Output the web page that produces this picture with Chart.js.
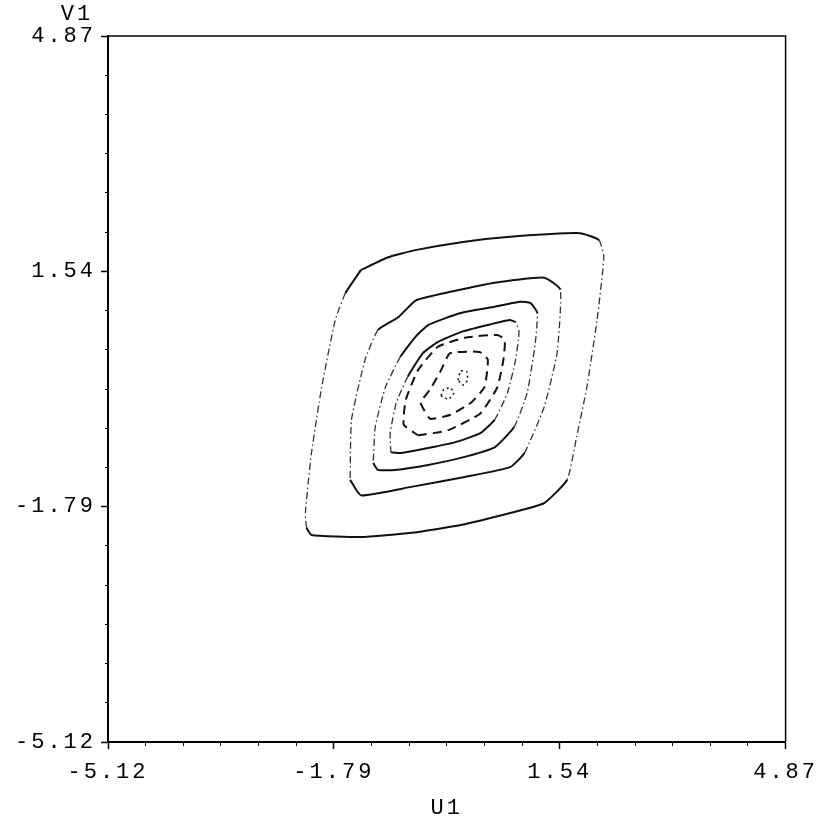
<!DOCTYPE html>
<html>
<head>
<meta charset="utf-8">
<title>U1 / V1 contours</title>
<script src="https://cdn.jsdelivr.net/npm/chart.js@4.4.1/dist/chart.umd.min.js"></script>
<style>
  body { margin: 0; background: #fff; }
  canvas { display: block; }
</style>
</head>
<body>
<canvas id="contourChart" width="822" height="821"></canvas>
<script>
// axis range and labelled ticks
const axisMin = -5.12;
const axisMax = 4.87;
const majorTicks = [-5.12, -1.79, 1.54, 4.87];
const tickLabels = ['-5.12', '-1.79', '1.54', '4.87'];
const minorPerMajor = 6;

// contour lines, outermost first
const c1x = [-1.39, -0.99, -0.59, 0.14, 0.81, 1.84, 2.12, 2.19, 2.09, 1.94, 1.79, 1.65, 1.31, 0.81, 0.08, -0.65, -1.39, -2.12, -2.19, -2.21, -2.12, -1.97, -1.77, -1.62, -1.39];
const c1y = [1.56, 1.74, 1.84, 1.96, 2.03, 2.08, 1.98, 1.74, 0.85, -0.10, -0.80, -1.41, -1.74, -1.88, -2.05, -2.16, -2.22, -2.19, -2.09, -1.88, -1.03, -0.10, 0.85, 1.23, 1.56];

const c2x = [-1.55, -1.39, -0.65, 0.14, 0.81, 1.02, 1.31, 1.50, 1.55, 1.31, 0.58, -0.07, -0.58, -0.84, -1.14, -1.33, -1.53, -1.55];
const c2y = [-1.41, -1.63, -1.51, -1.37, -1.23, -1.03, -0.38, 0.38, 1.28, 1.45, 1.38, 1.25, 1.13, 0.89, 0.71, 0.29, -0.56, -1.41];

const c3x = [-1.21, -1.14, -0.89, -0.40, 0.08, 0.58, 0.87, 1.06, 1.18, 1.21, 1.11, 0.96, 0.58, 0.08, -0.40, -0.59, -0.81, -1.03, -1.18, -1.21];
const c3y = [-1.17, -1.27, -1.27, -1.20, -1.10, -0.95, -0.66, -0.18, 0.53, 0.95, 1.09, 1.11, 1.04, 0.95, 0.78, 0.61, 0.33, -0.10, -0.66, -1.17];

const c4x = [-0.95, -0.80, -0.40, -0.01, 0.37, 0.58, 0.77, 0.89, 0.94, 0.89, 0.80, 0.48, 0.08, -0.26, -0.48, -0.70, -0.87, -0.96, -0.95];
const c4y = [-1.02, -1.03, -0.96, -0.88, -0.75, -0.56, -0.18, 0.29, 0.68, 0.82, 0.85, 0.78, 0.68, 0.54, 0.38, 0.05, -0.32, -0.75, -1.02];

const c5x = [-0.55, -0.11, 0.37, 0.62, 0.71, 0.73, 0.62, 0.14, -0.26, -0.55, -0.73, -0.76, -0.55];
const c5y = [-0.78, -0.71, -0.47, -0.10, 0.29, 0.57, 0.64, 0.60, 0.47, 0.14, -0.28, -0.63, -0.78];

const c6x = [-0.40, -0.36, -0.07, 0.23, 0.43, 0.48, 0.36, -0.08, -0.21, -0.37, -0.51, -0.40];
const c6y = [-0.52, -0.55, -0.49, -0.32, -0.10, 0.29, 0.40, 0.38, 0.14, -0.13, -0.32, -0.52];

// two tiny loops at the peak
const c7ax = [0.04, 0.08, 0.17, 0.18, 0.11, 0.04];
const c7ay = [0.00, 0.13, 0.12, 0.00, -0.07, 0.00];
const c7bx = [-0.21, -0.17, -0.07, -0.02, -0.10, -0.21];
const c7by = [-0.22, -0.13, -0.11, -0.18, -0.27, -0.22];

// all ticks: each labelled interval split in 6
const tickValues = [];
majorTicks.forEach((v, i) => {
    if (i === majorTicks.length - 1) { tickValues.push(v); return; }
    const step = (majorTicks[i + 1] - v) / minorPerMajor;
    for (let k = 0; k < minorPerMajor; k++) tickValues.push(v + k * step);
});

const monoFont = { family: "'Liberation Mono', 'DejaVu Sans Mono', monospace", size: 22 };

function toPoints(xs, ys) {
    return xs.map((x, i) => ({ x: x, y: ys[i] }));
}

// near-vertical strokes came out dash-dotted on the original plotter
const steep = c => Math.abs(c.p1.y - c.p0.y) > 1.7 * Math.abs(c.p1.x - c.p0.x);

function contour(xs, ys, style) {
    const ds = {
        data: toPoints(xs, ys),
        showLine: true,
        pointRadius: 0,
        borderColor: '#111',
        borderWidth: 2,
        tension: 0.15,
        fill: false
    };
    if (style === 'plotter') {
        ds.segment = {
            borderDash: c => steep(c) ? [7, 3, 1.5, 3] : undefined,
            borderWidth: c => steep(c) ? 1.3 : undefined,
            borderColor: c => steep(c) ? '#333' : undefined
        };
    } else if (style === 'dash') {
        ds.borderDash = [9, 6];
    } else if (style === 'dot') {
        ds.borderDash = [2, 3];
        ds.borderWidth = 1.5;
    }
    return ds;
}

const framePlugin = {
    id: 'frame',
    beforeDraw(chart) {
        // typewriter-like spaced lettering
        chart.ctx.letterSpacing = '3px';
    },
    afterDraw(chart) {
        const { ctx, chartArea } = chart;
        ctx.save();
        ctx.strokeStyle = '#000';
        ctx.lineWidth = 1.5;
        ctx.beginPath();
        ctx.moveTo(chartArea.left, chartArea.top);
        ctx.lineTo(chartArea.right, chartArea.top);
        ctx.lineTo(chartArea.right, chartArea.bottom);
        ctx.stroke();
        // y axis name sits above the top label
        ctx.fillStyle = '#000';
        ctx.font = monoFont.size + 'px ' + monoFont.family;
        ctx.textAlign = 'center';
        ctx.textBaseline = 'middle';
        ctx.fillText('V1', chartArea.left - 31, chartArea.top - 22);
        ctx.restore();
    }
};

function axis(isX) {
    return {
        type: 'linear',
        min: axisMin,
        max: axisMax,
        afterBuildTicks: s => { s.ticks = tickValues.map(v => ({ value: v })); },
        afterFit: s => {
            if (isX) s.height = 79; else s.width = 108;
        },
        ticks: {
            autoSkip: false,
            maxRotation: 0,
            color: '#000',
            font: monoFont,
            padding: isX ? 10 : 5,
            callback: (v, i) => i % minorPerMajor === 0 ? tickLabels[i / minorPerMajor] : ''
        },
        grid: {
            drawOnChartArea: false,
            drawTicks: true,
            tickLength: 7,
            tickColor: '#000',
            tickWidth: c => c.index % minorPerMajor === 0 ? 1.5 : 1,
            tickBorderDash: c => c.index % minorPerMajor === 0 ? [] : (isX ? [3, 20] : [0, 4, 3, 20])
        },
        border: { display: true, color: '#000', width: 2 },
        title: isX ? {
            display: true,
            text: 'U1',
            color: '#000',
            font: monoFont,
            padding: { top: 0, bottom: 0 }
        } : { display: false }
    };
}

new Chart(document.getElementById('contourChart'), {
    type: 'scatter',
    data: {
        datasets: [
            contour(c1x, c1y, 'plotter'),
            contour(c2x, c2y, 'plotter'),
            contour(c3x, c3y, 'plotter'),
            contour(c4x, c4y, 'plotter'),
            contour(c5x, c5y, 'dash'),
            contour(c6x, c6y, 'dash'),
            contour(c7ax, c7ay, 'dot'),
            contour(c7bx, c7by, 'dot')
        ]
    },
    options: {
        responsive: false,
        animation: false,
        layout: { padding: { left: 0, right: 32, top: 36, bottom: 0 } },
        scales: {
            x: axis(true),
            y: axis(false)
        },
        plugins: {
            legend: { display: false },
            tooltip: { enabled: false }
        }
    },
    plugins: [framePlugin]
});
</script>
</body>
</html>
